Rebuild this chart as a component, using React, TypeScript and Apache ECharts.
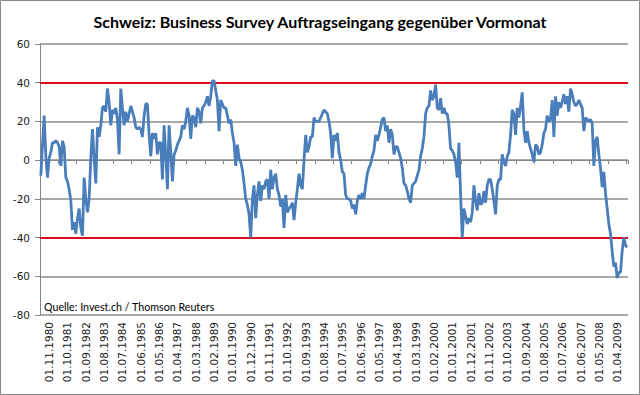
import React, { useEffect, useRef } from "react";
import * as echarts from "echarts";

// Monthly observations, starting 01.11.1980
const startYear = 1980;
const startMonth = 11;

const values: number[] = [
  -8, 8, 23, 2, -9, 1, 4, 9, 9, 10,
  9, 7, -3, 10, 7, -9, -11, -15, -21, -36,
  -32, -38, -30, -25, -35, -39, -9, -20, -27, -20,
  1, 16, 1, -12, 17, 12, 18, 27, 28, 25,
  37, 30, 18, 26, 24, 27, 21, 3, 37, 27,
  18, 25, 20, 24, 28, 25, 22, 17, 16, 17,
  16, 12, 23, 29, 29, 13, 2, 14, 11, 14,
  3, 9, 9, -10, 18, 3, -15, 18, 4, -11,
  3, 5, 8, 10, 12, 18, 16, 20, 27, 23,
  11, 23, 22, 17, 27, 25, 19, 27, 28, 30,
  33, 28, 33, 41, 41, 36, 31, 15, 31, 29,
  27, 27, 23, 19, 21, 14, 9, -3, 8, 1,
  -1, -5, -12, -20, -23, -28, -40, -20, -13, -30,
  -18, -11, -21, -13, -15, -11, -10, -20, -5, -15,
  -9, -7, -15, -18, -24, -20, -35, -18, -27, -25,
  -24, -22, -31, -22, -15, -7, -13, -15, 0, 13,
  4, 7, 12, 12, 22, 20, 20, 20, 22, 24,
  26, 25, 24, 20, 14, 1, 13, 10, 14, 4,
  0, -6, -7, -18, -20, -20, -21, -25, -23, -28,
  -21, -18, -20, -17, -20, -13, -7, -4, -2, 2,
  5, 13, 10, 13, 17, 21, 22, 15, 18, 9,
  16, 13, 3, 7, 7, 4, 1, -4, -12, -13,
  -16, -20, -22, -13, -12, -11, -8, -5, 2, 6,
  12, 24, 27, 28, 36, 31, 33, 39, 27, 26,
  32, 24, 27, 24, 24, 18, 6, 5, 3, -1,
  -9, 9, -18, -40, -25, -29, -33, -30, -32, -27,
  -13, -21, -26, -17, -23, -22, -16, -22, -13, -10,
  -10, -15, -21, -28, -13, -10, -10, 3, -1, -3,
  2, 4, 13, 26, 24, 13, 27, 22, 28, 35,
  16, 9, 15, 9, 6, 3, -1, 8, 7, 3,
  4, 8, 14, 16, 23, 20, 21, 31, 12, 33,
  23, 30, 27, 30, 34, 29, 33, 25, 37, 34,
  30, 28, 29, 31, 29, 27, 15, 22, 21, 20,
  21, 19, -3, 10, 12, 3, -4, -14, -6, -17,
  -25, -33, -38, -47, -55, -53, -61, -58, -58, -47,
  -40, -44, -45,
];

const categories: string[] = values.map((_, i) => {
  const total = startMonth - 1 + i;
  const y = startYear + Math.floor(total / 12);
  const m = (total % 12) + 1;
  return "01." + (m < 10 ? "0" + m : "" + m) + "." + y;
});

const thresholds: number[] = [40, -40];
const yTicks = { min: -80, max: 60, interval: 20 };
const labelEvery = 11;

const title = "Schweiz: Business Survey Auftragseingang gegenüber Vormonat";
const source = "Quelle: Invest.ch / Thomson Reuters";

export default function App() {
  const ref = useRef<HTMLDivElement>(null);
  useEffect(() => {
    if (!ref.current) return;
    const chart = echarts.init(ref.current, undefined, { renderer: "svg" });
    const idx = new Map<string, number>();
    categories.forEach((c, i) => idx.set(c, i));
    chart.setOption({
      animation: false,
      backgroundColor: "#fff",
      title: {
        text: title,
        left: "center",
        top: 8,
        textStyle: { fontFamily: "Lato", fontWeight: "bold", fontSize: 16, color: "#000" },
      },
      grid: { left: 40, right: 12, top: 44, bottom: 80, containLabel: false },
      xAxis: {
        type: "category",
        data: categories,
        boundaryGap: true,
        axisLine: { lineStyle: { color: "#868686", width: 1 } },
        axisTick: {
          show: true,
          length: 4,
          interval: (i: number) => i % labelEvery === 0,
          lineStyle: { color: "#868686" },
        },
        axisLabel: {
          rotate: 90,
          margin: 7,
          fontFamily: "DejaVu Sans",
          fontSize: 10.5,
          color: "#222",
          interval: (i: number) => i % labelEvery === 5,
          formatter: (v: string) => {
            const i = idx.get(v) ?? 0;
            return categories[i - 5] ?? "";
          },
        },
        splitLine: { show: false },
      },
      yAxis: {
        type: "value",
        min: yTicks.min,
        max: yTicks.max,
        interval: yTicks.interval,
        axisLine: { show: true, lineStyle: { color: "#868686", width: 1 } },
        axisTick: { show: true, length: 5, lineStyle: { color: "#868686" } },
        axisLabel: { fontFamily: "DejaVu Sans", fontSize: 10.5, color: "#222", margin: 10 },
        splitLine: { lineStyle: { color: "#8c8c8c", width: 1.5 } },
      },
      series: [
        {
          type: "line",
          data: values,
          showSymbol: false,
          symbol: "none",
          lineStyle: { color: "#4a7ebb", width: 2.8 },
          z: 3,
          markLine: {
            silent: true,
            symbol: "none",
            label: { show: false },
            lineStyle: { color: "#dc0a1e", width: 2, type: "solid" },
            data: thresholds.map((t) => ({ yAxis: t })),
            z: 2,
          },
        },
      ],
      graphic: [
        {
          type: "text",
          left: 44,
          top: 301,
          style: { text: source, fontFamily: "Lato", fontSize: 10.7, fill: "#000" },
        },
        {
          type: "rect",
          shape: { x: 0.5, y: 0.5, width: 639, height: 394 },
          style: { fill: "none", stroke: "#8a8a8a", lineWidth: 1 },
          silent: true,
        },
      ],
    });
    return () => chart.dispose();
  }, []);
  return (
    <div style={{ position: "fixed", left: 0, top: 0, width: 640, height: 395 }}>
      <div ref={ref} style={{ width: 640, height: 395 }} />
    </div>
  );
}
